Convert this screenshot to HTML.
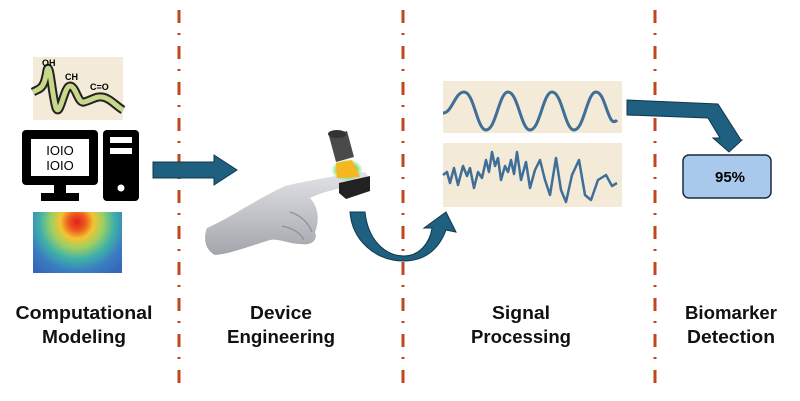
<!DOCTYPE html>
<html><head><meta charset="utf-8"><style>
html,body{margin:0;padding:0;background:#fff;width:800px;height:401px;overflow:hidden}
svg{display:block}
text{font-family:"Liberation Sans",sans-serif}
</style></head><body>
<svg width="800" height="401" viewBox="0 0 800 401" xmlns="http://www.w3.org/2000/svg">
<defs>
<radialGradient id="hm" cx="77" cy="222" r="62" gradientUnits="userSpaceOnUse">
<stop offset="0" stop-color="#e02020"/>
<stop offset="0.14" stop-color="#ee5a1e"/>
<stop offset="0.27" stop-color="#f3c431"/>
<stop offset="0.42" stop-color="#9fcf62"/>
<stop offset="0.6" stop-color="#3fb2a8"/>
<stop offset="0.8" stop-color="#3a7cc2"/>
<stop offset="1" stop-color="#3668b8"/>
</radialGradient>
<linearGradient id="hand" x1="0" y1="0" x2="0" y2="1">
<stop offset="0" stop-color="#e2e3e7"/><stop offset="1" stop-color="#a2a5ab"/>
</linearGradient>
<radialGradient id="glow" cx="0.5" cy="0.5" r="0.5"><stop offset="0.6" stop-color="#7fd860"/><stop offset="1" stop-color="#7fd860" stop-opacity="0"/></radialGradient>
</defs>
<g stroke="#c0461c" stroke-width="3" stroke-dasharray="13 10 2 11">
<line x1="179" y1="10" x2="179" y2="390"/>
<line x1="403" y1="10" x2="403" y2="390"/>
<line x1="655" y1="10" x2="655" y2="390"/>
</g>
<!-- spectrum -->
<rect x="33" y="57" width="90" height="63" fill="#f4ead8"/>
<path d="M33 92 C40 88 44 90 47 70 C50 60 52 96 56 108 C60 118 64 86 70 86 C76 86 78 104 84 102 C92 100 96 96 102 97 C110 98 116 106 123 110" fill="none" stroke="#222" stroke-width="9"/>
<path d="M33 92 C40 88 44 90 47 70 C50 60 52 96 56 108 C60 118 64 86 70 86 C76 86 78 104 84 102 C92 100 96 96 102 97 C110 98 116 106 123 110" fill="none" stroke="#c8d88a" stroke-width="5"/>
<text x="42" y="66" font-size="9" font-weight="bold">OH</text>
<text x="65" y="80" font-size="9" font-weight="bold">CH</text>
<text x="90" y="90" font-size="9" font-weight="bold">C=O</text>
<!-- computer -->
<rect x="22" y="130" width="76" height="55" rx="4" fill="#000"/>
<rect x="31" y="139" width="58" height="37" fill="#fff"/>
<text x="60" y="155" font-size="13" text-anchor="middle" font-family="Liberation Mono">IOIO</text>
<text x="60" y="170" font-size="13" text-anchor="middle" font-family="Liberation Mono">IOIO</text>
<rect x="54" y="184" width="12" height="12" fill="#000"/>
<rect x="41" y="193" width="38" height="8" fill="#000"/>
<rect x="103" y="130" width="36" height="71" rx="4" fill="#000"/>
<rect x="110" y="137" width="22" height="6" fill="#fff"/>
<rect x="110" y="148" width="22" height="6" fill="#fff"/>
<circle cx="121" cy="188" r="3.5" fill="#fff"/>
<!-- heatmap -->
<rect x="33" y="212" width="89" height="61" fill="url(#hm)"/>
<!-- straight arrow -->
<path d="M153 162 L214 162 L214 155 L237 170 L214 185 L214 178 L153 178 Z" fill="#1f5f80" stroke="#10384c" stroke-width="1"/>
<!-- hand -->
<path d="M207 228 C230 218 255 200 285 186 C310 180 340 175 365 172 C370 176 368 182 360 184 C340 188 322 192 310 198 C318 206 320 220 315 232 C318 240 312 246 300 244 C290 244 278 238 270 240 C250 246 230 254 215 255 C205 250 203 238 207 228 Z" fill="url(#hand)"/>
<path d="M290 212 C300 215 308 222 312 232 M282 226 C292 228 300 232 304 240" fill="none" stroke="#8d9096" stroke-width="1.2"/>
<!-- sensor -->
<ellipse cx="347" cy="170" rx="16" ry="11" fill="url(#glow)"/>
<path d="M329 136 L347 131 L354 157 L336 162 Z" fill="#4a4a4a"/>
<ellipse cx="337" cy="134" rx="9" ry="4" fill="#333"/>
<path d="M336 163 L352 160 L360 177 L337 178 Z" fill="#f6b820"/>
<path d="M339 183 L370 176 L370 191 L346 199 L339 193 Z" fill="#222"/>
<!-- curved arrow -->
<path d="M350 212 L365 212 C368 240 385 256 404 256 C420 256 430 242 432 228 L424 228 L446 212 L456 232 L446 230 C438 252 422 261 404 261 C375 261 352 240 350 212 Z" fill="#1f5f80" stroke="#10384c" stroke-width="1"/>
<!-- signals -->
<rect x="443" y="81" width="179" height="52" fill="#f4ead8"/>
<rect x="443" y="143" width="179" height="64" fill="#f4ead8"/>
<path d="M443 113 C452 113 455 92 464 92 C474 92 477 130 486 130 C496 130 499 92 508 92 C518 92 521 130 530 130 C540 130 543 92 552 92 C562 92 565 130 574 130 C584 130 587 92 596 92 C606 92 608 130 617 120" fill="none" stroke="#3f6e98" stroke-width="3"/>
<path d="M443 175 L447 172 L450 183 L454 168 L458 185 L463 166 L467 176 L470 168 L474 188 L478 172 L482 178 L486 160 L489 172 L492 152 L495 166 L498 158 L501 180 L505 166 L508 172 L511 160 L514 174 L517 152 L521 180 L526 162 L530 188 L535 170 L540 160 L545 180 L550 195 L556 158 L561 190 L566 202 L572 175 L579 160 L585 195 L591 200 L598 180 L606 175 L612 186 L617 183" fill="none" stroke="#3f6e98" stroke-width="2.5" stroke-linejoin="round"/>
<!-- bent arrow -->
<path d="M627 100 L718 104 L741 140 L742 140 L729 152 L713 138 L720 138 L708 118 L627 115 Z" fill="#1f5f80" stroke="#10384c" stroke-width="1"/>
<!-- 95% -->
<rect x="683" y="155" width="88" height="43" rx="6" fill="#a9c9ec" stroke="#1c2a3a" stroke-width="1.5"/>
<text x="730" y="182" font-size="15" font-weight="bold" text-anchor="middle">95%</text>
<!-- labels -->
<g font-size="18" font-weight="bold" text-anchor="middle" fill="#111">
<text x="84" y="319" textLength="137" lengthAdjust="spacingAndGlyphs">Computational</text><text x="84" y="343" textLength="84" lengthAdjust="spacingAndGlyphs">Modeling</text>
<text x="281" y="319" textLength="62" lengthAdjust="spacingAndGlyphs">Device</text><text x="281" y="343" textLength="108" lengthAdjust="spacingAndGlyphs">Engineering</text>
<text x="521" y="319" textLength="58" lengthAdjust="spacingAndGlyphs">Signal</text><text x="521" y="343" textLength="100" lengthAdjust="spacingAndGlyphs">Processing</text>
<text x="731" y="319" textLength="92" lengthAdjust="spacingAndGlyphs">Biomarker</text><text x="731" y="343" textLength="88" lengthAdjust="spacingAndGlyphs">Detection</text>
</g>
</svg>
</body></html>
